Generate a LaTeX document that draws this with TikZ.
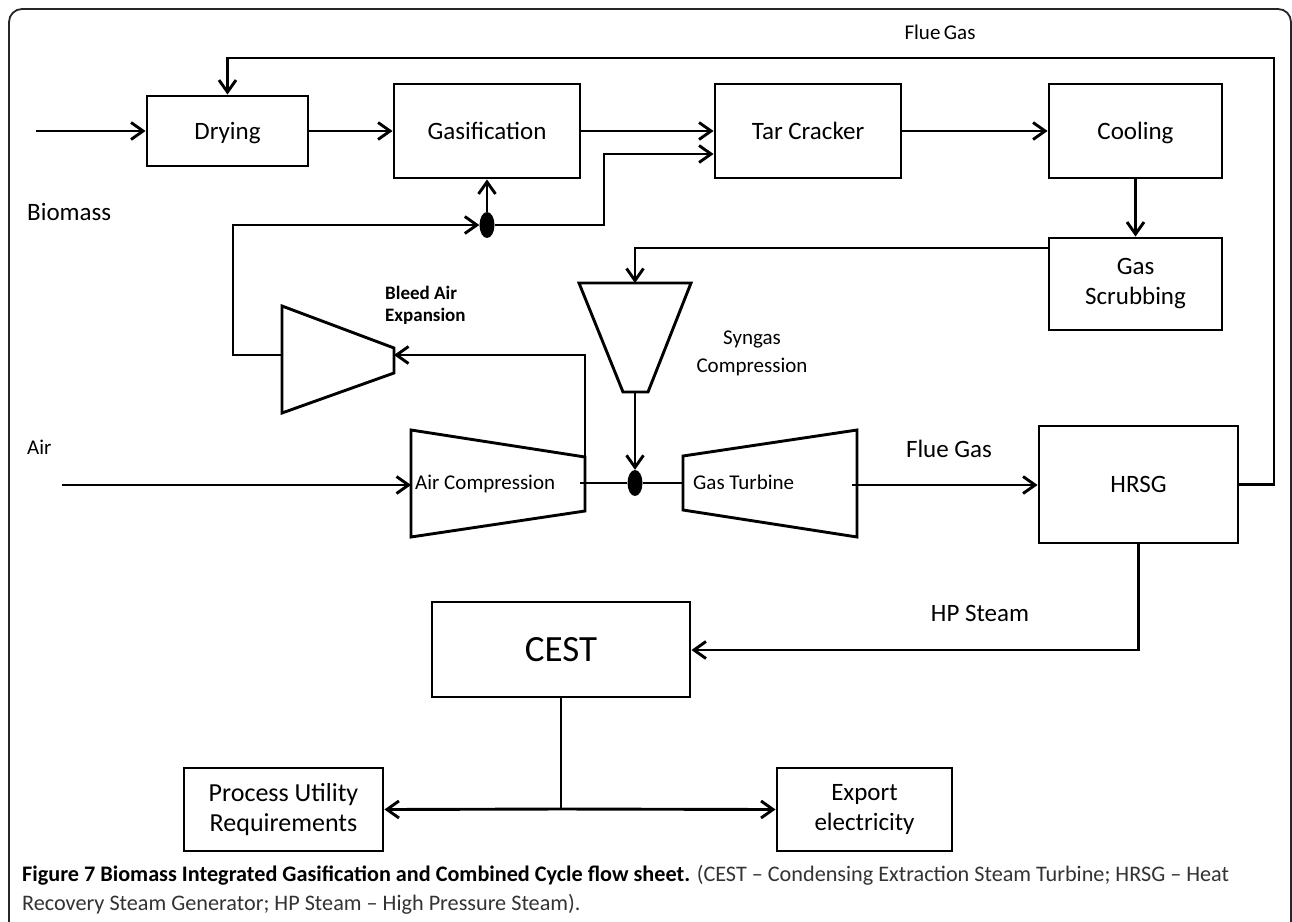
\documentclass[tikz,border=0pt]{standalone}
\usepackage{fontspec}
\setmainfont{Carlito}
\usetikzlibrary{arrows.meta,shapes.geometric}
\begin{document}
\begin{tikzpicture}[x=1pt,y=-1pt,
  conn/.style={line width=2.9pt,line join=miter},
  arr/.style={conn,-{Straight Barb[length=12pt,width=17pt]}},
  box/.style={draw,line width=2.9pt,inner sep=0pt,align=center,font=\fontsize{25}{30}\selectfont},
  capc/.style={text height=#1,text depth=0pt},
  unit/.style={draw,line width=2.9pt,line join=miter},
  lbl/.style={inner sep=0pt,capc=16pt,font=\fontsize{25}{30}\selectfont},
  slbl/.style={inner sep=0pt,capc=13.5pt,font=\fontsize{21}{28}\selectfont},
  captxt/.style={inner sep=0pt,anchor=west,capc=14pt,text=black!80,font=\fontsize{22.2}{26}\selectfont},
  junc/.style={ellipse,fill=black,minimum width=15pt,minimum height=26pt,inner sep=0pt}]
\useasboundingbox (0,0) rectangle (1292,921);
\fill[white] (0,0) rectangle (1292,921);
% frame
\draw[line width=1.8pt,black!85,rounded corners=13pt] (9,960) -- (9,9) -- (1291,9) -- (1291,960);
% boxes
\node[box,capc=16pt,minimum width=161pt,minimum height=70pt] (dry) at (227.5,131) {Drying};
\node[box,capc=16pt,minimum width=186pt,minimum height=94pt] (gas) at (487,131) {Gasification};
\node[box,capc=16pt,minimum width=186pt,minimum height=94pt] (tar) at (808,131) {Tar Cracker};
\node[box,capc=16pt,minimum width=173pt,minimum height=94pt] (cool) at (1135.5,131) {Cooling};
\node[box,minimum width=173pt,minimum height=92pt] (scrub) at (1135.5,284) {Gas\\Scrubbing};
\node[box,capc=16pt,minimum width=199pt,minimum height=117pt] (hrsg) at (1138.5,484.5) {HRSG};
\node[box,capc=23.5pt,minimum width=258pt,minimum height=95pt,font=\fontsize{37}{40}\selectfont] (cest) at (561,649.5) {CEST};
\node[box,minimum width=199pt,minimum height=83pt,font=\fontsize{26}{30}\selectfont] (proc) at (283.5,809.5) {Process Utility\\Requirements};
\node[box,minimum width=175pt,minimum height=83pt] (exp) at (864.5,809.5) {Export\\electricity};
% turbomachines
\coordinate (be1) at (282,306); \coordinate (be2) at (394,348);
\coordinate (be3) at (394,373); \coordinate (be4) at (282,413);
\draw[unit] (be1) -- (be2) -- (be3) -- (be4) -- cycle;
\coordinate (ac1) at (411,430); \coordinate (ac2) at (585,457);
\coordinate (ac3) at (585,511); \coordinate (ac4) at (411,537);
\draw[unit] (ac1) -- (ac2) -- (ac3) -- (ac4) -- cycle;
\coordinate (sc1) at (579,283); \coordinate (sc2) at (691,283);
\coordinate (sc3) at (648,392); \coordinate (sc4) at (623,392);
\draw[unit] (sc1) -- (sc2) -- (sc3) -- (sc4) -- cycle;
\coordinate (gt1) at (683,456); \coordinate (gt2) at (857,430);
\coordinate (gt3) at (857,537); \coordinate (gt4) at (683,510);
\draw[unit] (gt1) -- (gt2) -- (gt3) -- (gt4) -- cycle;
% named points on the machines
\coordinate (beL) at (282,355); \coordinate (beR) at (394,355);
\coordinate (acL) at (411,485); \coordinate (acR) at (580,483);
\coordinate (acTop) at (585,457);
\coordinate (scT) at (635,283); \coordinate (scB) at (635,392);
\coordinate (gtL) at (683,483); \coordinate (gtR) at (852,485);
% junctions
\node[junc] (j1) at (487,225) {};
\node[junc] (j2) at (635,483) {};
% free ends
\coordinate (bioin) at (36,131);
\coordinate (airin) at (62,485);
\coordinate (split) at (561,809);
% connectors
\draw[arr] (bioin) -- (dry.west);
\draw[arr] (dry.east) -- (gas.west);
\draw[arr] (gas.east) -- (tar.west);
\draw[arr] (tar.east) -- (cool.west);
\draw[arr] (cool.south) -- (scrub.north);
\draw[arr] (j1.north) -- (gas.south);
\draw[arr] (beL) -- (233,355) -- (233,225) -- (j1.west);
\draw[arr] (j1.east) -- (604,225) -- (604,154) -- (tar.west |- 0,154);
\draw[arr] (scrub.west |- 0,248) -- (635,248) -- (scT);
\draw[arr] (scB) -- (j2.north);
\draw[arr] (airin) -- (acL);
\draw[conn] (acR) -- (j2.west);
\draw[conn] (j2.east) -- (gtL);
\draw[arr] (acTop) -- (585,355) -- (beR);
\draw[arr] (gtR) -- (hrsg.west |- gtR);
\draw[arr] (hrsg.east) -- (1274,484.5) -- (1274,58) -- (227.5,58) -- (dry.north);
\draw[arr] (hrsg.south) -- (1138.5,650) -- (cest.east |- 0,650);
\draw[conn] (cest.south) -- (split);
\draw[arr] (split) -- (proc.east);
\draw[arr] (split) -- (exp.west);
% labels
\node[slbl] (lflue1) at (940,33) {Flue\,Gas};
\node[lbl,anchor=west] (lbio) at (27,212) {Biomass};
\node[slbl,anchor=west] (lair) at (27,448) {Air};
\node[inner sep=0pt,anchor=west,align=left,font=\fontsize{19}{22}\bfseries\selectfont] (lbleed) at (385,305) {Bleed Air\\Expansion};
\node[inner sep=0pt,align=center,font=\fontsize{21}{28}\selectfont] (lsyn) at (752,353) {Syngas\\Compression};
\node[slbl,anchor=west] (lac) at (415,483) {Air Compression};
\node[slbl,anchor=west] (lgt) at (693,483) {Gas Turbine};
\node[lbl] (lflue2) at (949,449) {Flue Gas};
\node[lbl] (lhp) at (980,613) {HP Steam};
% caption
\node[captxt] (cap1) at (22,874) {\textcolor{black}{\textbf{Figure 7 Biomass Integrated Gasification and Combined Cycle flow sheet.}} (CEST – Condensing Extraction Steam Turbine; HRSG – Heat};
\node[captxt] (cap2) at (22,903) {Recovery Steam Generator; HP Steam – High Pressure Steam).};
\end{tikzpicture}
\end{document}
